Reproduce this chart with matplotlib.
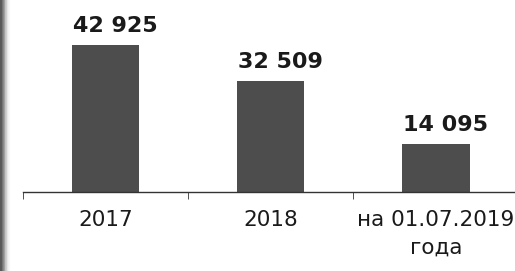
import matplotlib
matplotlib.use("Agg")
import matplotlib.pyplot as plt
import numpy as np

categories = ["2017", "2018", "на 01.07.2019\nгода"]
values = [42925, 32509, 14095]
value_labels = ["42 925", "32 509", "14 095"]

fig = plt.figure(figsize=(5.15, 2.71), dpi=100)
fig.patch.set_facecolor("white")

# scanner shading at the left edge
gax = fig.add_axes([0, 0, 12/515, 1])
grad = np.array([[0.35, 0.55, 0.8, 0.95, 1.0]])
gax.imshow(np.repeat(grad, 10, axis=0), cmap="gray", vmin=0, vmax=1, aspect="auto")
gax.axis("off")

ax = fig.add_axes([23/515, (271-192)/271, (515-23)/515, 192/271])
x = np.arange(len(categories))
ax.bar(x, values, width=0.41, color="#4d4d4d")
for xi, v, lab in zip(x, values, value_labels):
    ax.text(xi + 0.06, v + 2600, lab, ha="center", va="bottom",
            fontsize=16, fontweight="bold", color="#1a1a1a", family="DejaVu Sans")

ax.set_xlim(-0.5, 2.48)
ax.set_ylim(0, 56000)
for s in ["top", "right", "left"]:
    ax.spines[s].set_visible(False)
ax.spines["bottom"].set_color("#333333")
ax.spines["bottom"].set_linewidth(1)
ax.set_yticks([])
ax.set_xticks(x)
ax.set_xticklabels(categories, fontsize=15.5, color="#1a1a1a", linespacing=1.45)
ax.tick_params(axis="x", which="major", length=0, pad=13)
ax.set_xticks([-0.5, 0.5, 1.5], minor=True)
ax.tick_params(axis="x", which="minor", length=5, direction="out", color="#333333")

fig.savefig("out.png", dpi=100)
